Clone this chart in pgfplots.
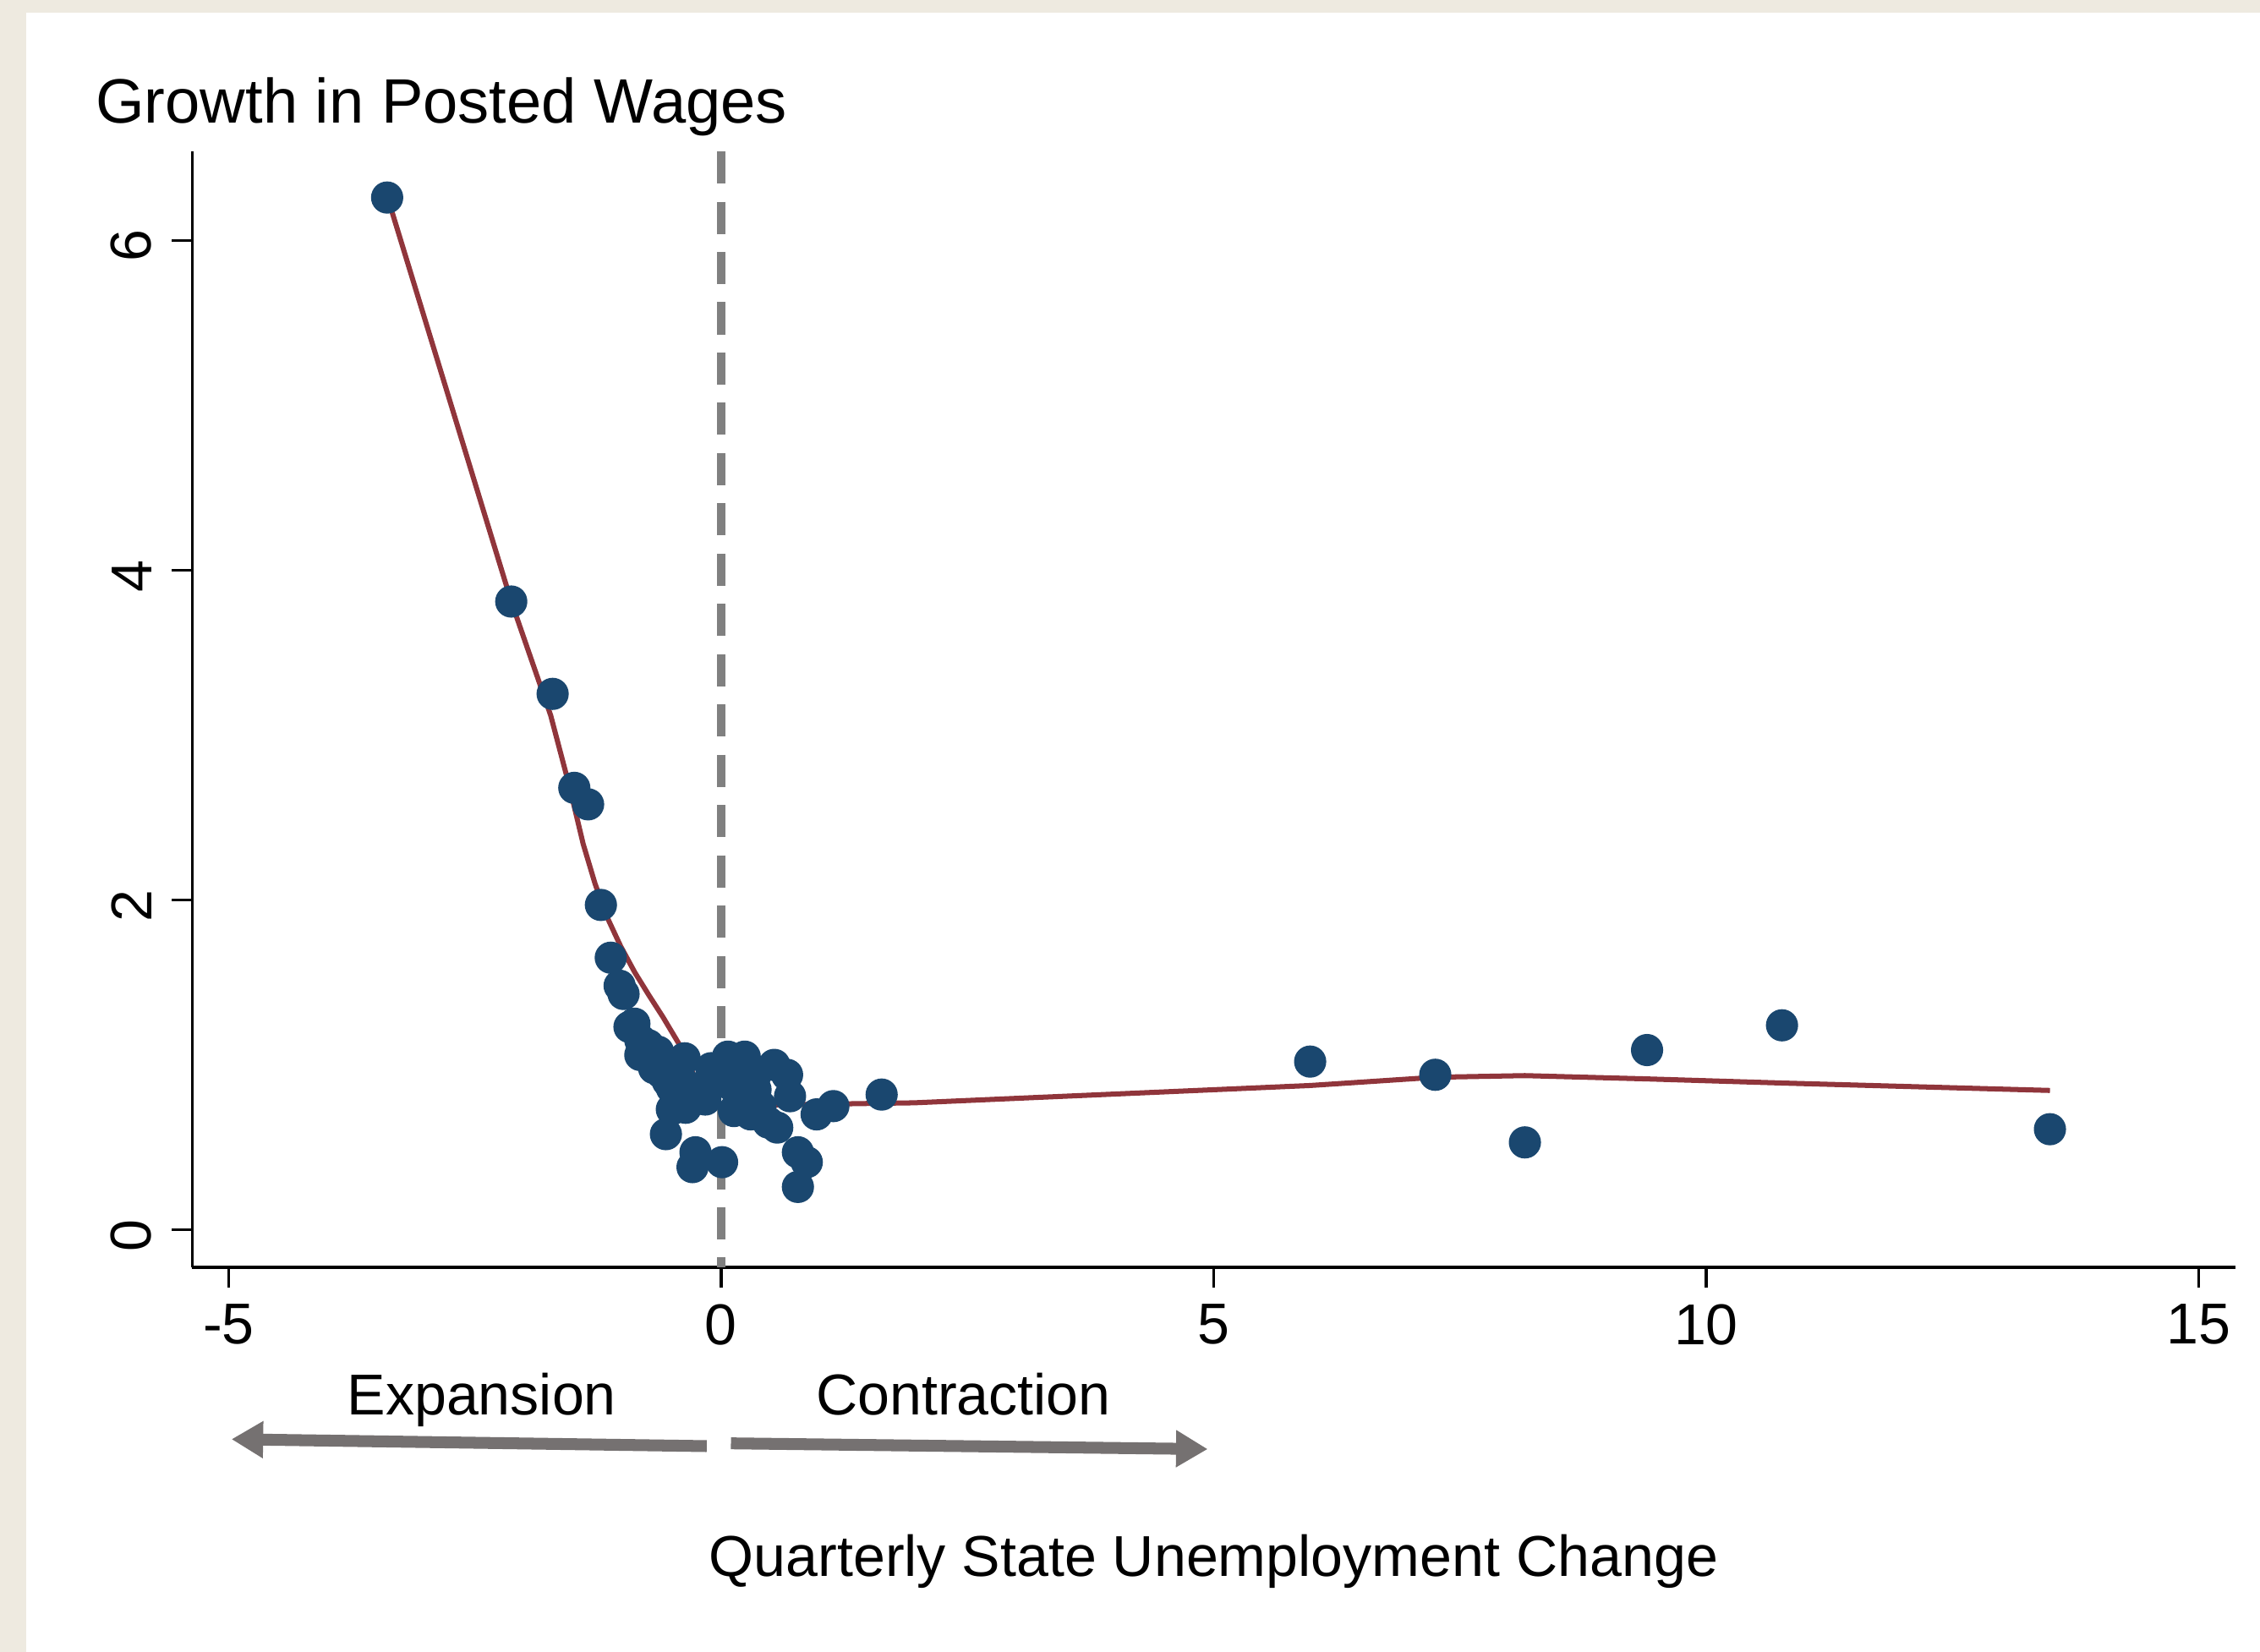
\documentclass[border=0pt]{standalone}
\usepackage{pgfplots}
\pgfplotsset{compat=1.18}
\usepackage{fontspec}
\setmainfont{Liberation Sans}
\usetikzlibrary{arrows.meta}
\definecolor{navy}{HTML}{1A476F}
\definecolor{maroon}{HTML}{90353B}
\definecolor{dgray}{HTML}{808080}
\definecolor{agray}{HTML}{757171}
\definecolor{beige}{HTML}{EEEAE0}
\begin{document}
\begin{tikzpicture}
\useasboundingbox (0,0) rectangle (400pt,292.4pt);
\fill[beige] (0,0) rectangle (400pt,292.4pt);
\fill[white] (4.6pt,0) rectangle (400pt,290.2pt);
\begin{axis}[
  at={(34pt,68.1pt)}, anchor=south west,
  scale only axis, width=361.6pt, height=197.5pt,
  xmin=-5.37, xmax=15.37, ymin=-0.227, ymax=6.54,
  axis x line=bottom, axis y line=left,
  axis line style={-, line width=0.5pt, black},
  clip=false,
  font=\fontsize{10.2}{12}\selectfont,
  xtick={-5,0,5,10,15}, xticklabels={-5,0,5,10,15},
  ytick={0,2,4,6}, yticklabels={0,2,4,6},
  tick align=outside, major tick length=3.6pt,
  tick style={line width=0.5pt, black},
  xticklabel style={anchor=north, yshift=0.6pt},
  yticklabel style={rotate=90, anchor=south, xshift=-1pt},
]
\draw[dgray, line width=1.4pt, dash pattern=on 5.7pt off 3.2pt] (axis cs:0,6.54) -- (axis cs:0,-0.227);
\addplot[only marks, mark=*, mark size=2.65pt, color=navy, mark options={draw=navy, fill=navy}] table {
x y
-3.39 6.26
-2.13 3.81
-1.71 3.25
-1.49 2.68
-1.35 2.58
-1.22 1.97
-1.12 1.65
-1.03 1.48
-0.99 1.43
-0.93 1.23
-0.88 1.25
-0.82 1.06
-0.82 1.15
-0.78 1.10
-0.74 1.12
-0.70 1.05
-0.68 0.98
-0.64 1.08
-0.60 0.95
-0.56 1.02
-0.54 0.90
-0.50 0.86
-0.47 0.96
-0.44 0.83
-0.40 0.90
-0.37 1.04
-0.36 0.74
-0.50 0.73
-0.56 0.58
-0.30 0.78
-0.26 0.47
-0.29 0.38
-0.22 0.86
-0.16 0.79
-0.10 0.98
-0.05 0.90
0.01 0.41
0.02 0.95
0.07 1.05
0.10 0.88
0.13 0.72
0.18 0.80
0.24 1.05
0.30 0.70
0.35 0.94
0.35 0.85
0.40 0.75
0.48 0.65
0.54 1.00
0.57 0.62
0.67 0.94
0.70 0.81
0.78 0.47
0.87 0.41
0.78 0.26
0.97 0.70
1.14 0.75
1.63 0.82
5.98 1.02
7.25 0.94
8.16 0.53
9.40 1.09
10.77 1.24
13.49 0.61
};
\addplot[maroon, line width=0.9pt, mark=none] table {
x y
-3.39 6.27
-2.13 3.81
-1.73 3.12
-1.54 2.69
-1.40 2.34
-1.28 2.10
-1.16 1.90
-1.02 1.72
-0.875 1.56
-0.73 1.42
-0.59 1.29
-0.47 1.17
-0.36 1.06
-0.32 1.03
-0.28 0.93
-0.22 0.86
-0.10 0.82
0.01 0.82
0.10 0.80
0.30 0.76
0.55 0.755
0.74 0.78
0.81 0.76
1.96 0.77
5.98 0.875
7.25 0.925
8.16 0.935
9.40 0.915
10.77 0.89
13.49 0.845
};
\draw[agray, line width=2.1pt, -{Triangle[width=6.2pt,length=5.6pt]}] (axis cs:-0.146,-1.312) -- (axis cs:-4.97,-1.27);
\draw[agray, line width=2.1pt, -{Triangle[width=6.2pt,length=5.6pt]}] (axis cs:0.10,-1.295) -- (axis cs:4.94,-1.33);
\node[anchor=base, inner sep=0] at (axis cs:-2.43,-1.12) {Expansion};
\node[anchor=base, inner sep=0] at (axis cs:2.46,-1.12) {Contraction};
\node[anchor=base, inner sep=0] at (axis cs:5.0,-2.10) {Quarterly State Unemployment Change};
\node[anchor=base west, inner sep=0, font=\fontsize{11.1}{13}\selectfont] at (axis cs:-6.36,6.71) {Growth in Posted Wages};
\end{axis}
\end{tikzpicture}
\end{document}
